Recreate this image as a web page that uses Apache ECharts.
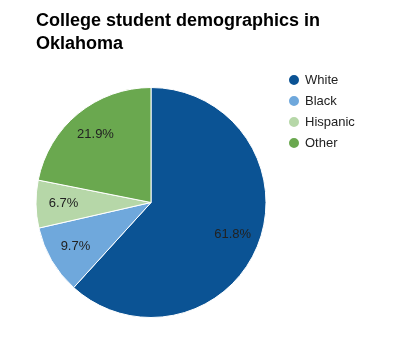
<!DOCTYPE html>
<html>
<head>
<meta charset="utf-8">
<script src="https://cdn.jsdelivr.net/npm/echarts@6/dist/echarts.min.js"></script>
<style>
  html, body { margin: 0; padding: 0; background: #fff; }
  #chart { width: 393px; height: 347px; }
</style>
</head>
<body>
<div id="chart"></div>
<script>
// Enrollment share by group, in percent
const categories = ['White', 'Black', 'Hispanic', 'Other'];
const shares = [61.8, 9.7, 6.7, 21.9];
const colors = ['#0b5394', '#6fa8dc', '#b6d7a8', '#6aa84f'];

const font = 'Liberation Sans, Arial, sans-serif';
const slices = categories.map((name, i) => ({ name, value: shares[i], itemStyle: { color: colors[i] } }));

const chart = echarts.init(document.getElementById('chart'), null, { renderer: 'canvas' });
chart.setOption({
  animation: false,
  title: {
    text: 'College student demographics in\nOklahoma',
    left: 36,
    top: 9,
    padding: 0,
    textStyle: { fontFamily: font, fontSize: 18, fontWeight: 'bold', color: '#000', lineHeight: 23.5 }
  },
  legend: {
    orient: 'vertical',
    left: 287,
    top: 73,
    padding: 0,
    icon: 'circle',
    itemWidth: 12,
    itemHeight: 12,
    itemGap: 7,
    data: categories,
    textStyle: { fontFamily: font, fontSize: 13, color: '#222' }
  },
  series: [
    {
      // filled slices
      type: 'pie',
      center: [151, 202.5],
      radius: [0, 115],
      startAngle: 90,
      clockwise: true,
      data: slices,
      label: { show: false },
      labelLine: { show: false },
      itemStyle: { borderColor: '#fff', borderWidth: 1 },
      emphasis: { disabled: true }
    },
    {
      // percentage labels, set further out than the default inside position
      type: 'pie',
      center: [151, 202.5],
      radius: [54, 115],
      startAngle: 90,
      clockwise: true,
      silent: true,
      legendHoverLink: false,
      data: slices.map(s => ({ name: s.name, value: s.value, itemStyle: { color: 'rgba(0,0,0,0)' } })),
      label: {
        show: true,
        position: 'inside',
        formatter: p => p.value.toFixed(1) + '%',
        fontFamily: font,
        fontSize: 13,
        color: '#222'
      },
      labelLine: { show: false },
      emphasis: { disabled: true }
    }
  ]
});
</script>
</body>
</html>
